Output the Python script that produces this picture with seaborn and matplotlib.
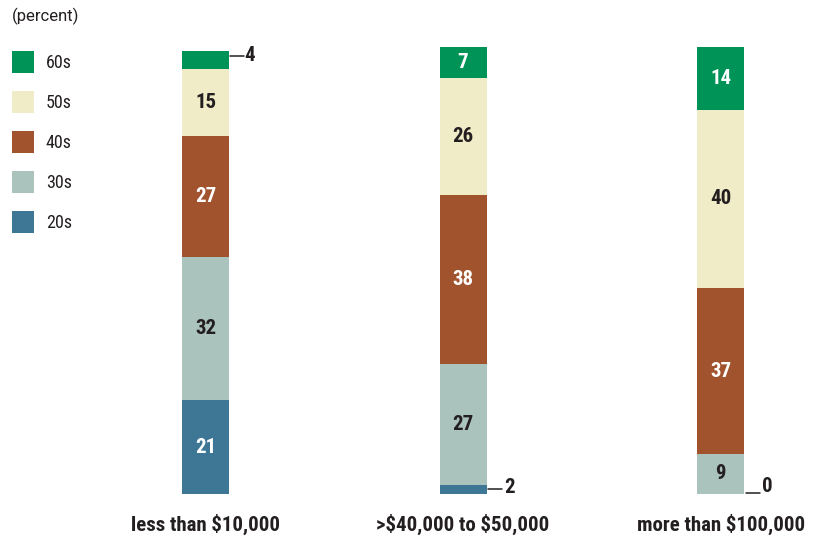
import numpy as np
import pandas as pd
import seaborn as sns
import matplotlib.pyplot as plt
from matplotlib.patches import Patch

# income groups and share of each age group (percent)
groups = ['less than $10,000', '>$40,000 to $50,000', 'more than $100,000']
ages = ['20s', '30s', '40s', '50s', '60s']
s20 = [21, 2, 0]
s30 = [32, 27, 9]
s40 = [27, 38, 37]
s50 = [15, 26, 40]
s60 = [4, 7, 14]

colors = {'20s': '#3e7796', '30s': '#abc3bd', '40s': '#a0532d',
          '50s': '#f0ecc7', '60s': '#009358'}
txtcol = {'20s': 'white', '30s': '#231f20', '40s': 'white',
          '50s': '#231f20', '60s': 'white'}
dark = '#231f20'

sns.set_style('white')
plt.rcParams['font.family'] = ['Roboto Condensed', 'DejaVu Sans']
plt.rcParams['text.parse_math'] = False

df = pd.DataFrame({'group': groups, '20s': s20, '30s': s30, '40s': s40,
                   '50s': s50, '60s': s60})
cum = df[ages].cumsum(axis=1)

fig = plt.figure(figsize=(8.21, 5.38), dpi=100)
ax = fig.add_axes([0, 0, 1, 1])
bw = 47 / 257.5

# draw cumulative totals from the top layer down so they stack
for age in ages[::-1]:
    sns.barplot(x=df['group'], y=cum[age], color=colors[age], saturation=1,
                width=bw, errorbar=None, ax=ax, linewidth=0)

ax.set_xlim(-0.798, 2.390)
ax.set_ylim(-9.84, 110.51)
ax.axis('off')

# value labels
for i in range(len(groups)):
    for age in ages:
        v = df.loc[i, age]
        top = cum.loc[i, age]
        if v >= 5:
            ax.text(i, top - v / 2, str(v), ha='center', va='center',
                    fontsize=15, fontweight='bold', color=txtcol[age])

# small segments called out to the side
edge = bw / 2
ax.plot([0 + edge + 0.004, 0 + edge + 0.058], [97.9, 97.9], color=dark, lw=1.1)
ax.text(0 + edge + 0.060, 98.2, str(s60[0]), ha='left', va='center',
        fontsize=15, fontweight='bold', color=dark)
ax.plot([1 + edge + 0.006, 1 + edge + 0.06], [1.1, 1.1], color=dark, lw=1.1)
ax.text(1 + edge + 0.07, 1.4, str(s20[1]), ha='left', va='center',
        fontsize=15, fontweight='bold', color=dark)
ax.plot([2 + edge + 0.006, 2 + edge + 0.06], [0.15, 0.15], color=dark, lw=1.1)
ax.text(2 + edge + 0.068, 1.7, str(s20[2]), ha='left', va='center',
        fontsize=15, fontweight='bold', color=dark)

# category labels
for i, g in enumerate(groups):
    ax.text(i, -6.8, g, ha='center', va='center', fontsize=15,
            fontweight='bold', color=dark)

fig.text(12 / 821, 1 - 16 / 538, '(percent)', ha='left', va='center',
         fontsize=12, color=dark, family='Roboto')

handles = [Patch(facecolor=colors[a], edgecolor='none', label=a) for a in ages[::-1]]
fig.legend(handles=handles, loc='upper left', bbox_to_anchor=(12 / 821, 1 - 51 / 538),
           frameon=False, fontsize=13, handlelength=1.218, handleheight=1.497,
           labelspacing=1.0, handletextpad=0.66, borderpad=0, borderaxespad=0,
           labelcolor=dark)

fig.savefig('out.png', dpi=100)
